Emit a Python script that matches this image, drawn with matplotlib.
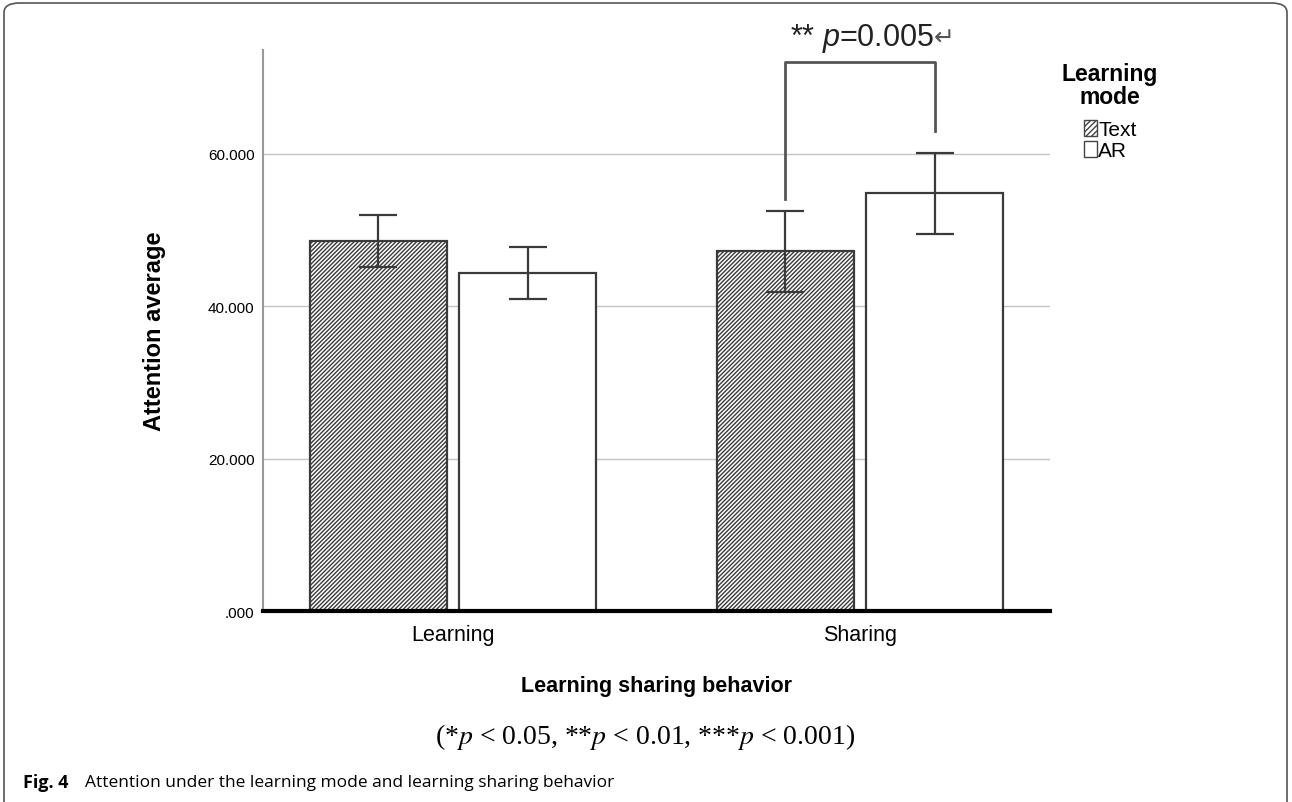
import matplotlib
matplotlib.use("Agg")
import matplotlib.pyplot as plt
from matplotlib.patches import FancyBboxPatch, Patch
import numpy as np

plt.rcParams['font.family'] = ['Liberation Sans', 'DejaVu Sans']
plt.rcParams['hatch.linewidth'] = 1.0
plt.rcParams['hatch.color'] = '#444444'
plt.rcParams['mathtext.fontset'] = 'custom'
plt.rcParams['mathtext.rm'] = 'Liberation Sans'
plt.rcParams['mathtext.it'] = 'Liberation Sans:italic'

groups = ["Learning", "Sharing"]
modes = ["Text", "AR"]
means = {"Text": [48.5, 47.2], "AR": [44.3, 54.8]}
err_lo = {"Text": [45.1, 41.8], "AR": [40.9, 49.4]}
err_hi = {"Text": [51.9, 52.5], "AR": [47.7, 60.1]}
yticks = [0, 20, 40, 60]
ytick_labels = [".000", "20.000", "40.000", "60.000"]

fig = plt.figure(figsize=(12.92, 8.03), dpi=100)
ax = fig.add_axes([263/1292, 1-612/803, (1050-263)/1292, (612-51)/803])

x = np.arange(len(groups))
w = 0.337
offs = {"Text": -0.184, "AR": 0.184}
for m in modes:
    xs = x + offs[m]
    hatch = "////////" if m == "Text" else None
    ax.bar(xs, means[m], w, color="white", edgecolor="#3a3a3a", hatch=hatch, lw=1.6, zorder=3)
    m_arr = np.array(means[m])
    yerr = [m_arr - np.array(err_lo[m]), np.array(err_hi[m]) - m_arr]
    ax.errorbar(xs, m_arr, yerr=yerr, fmt="none", ecolor="#3a3a3a", elinewidth=1.6,
                capsize=13.5, capthick=1.6, zorder=4)

ax.set_xlim(-0.467, 1.467)
ax.set_ylim(0, 73.6)
ax.set_yticks(yticks)
ax.set_yticklabels(ytick_labels, fontsize=11)
ax.set_xticks(x)
ax.set_xticklabels(groups, fontsize=15.5)
ax.tick_params(length=0)
ax.tick_params(axis='y', pad=6)
ax.tick_params(axis='x', pad=9)
ax.grid(axis='y', color="#c4c4c4", lw=1, zorder=0)
for s in ["top", "right"]:
    ax.spines[s].set_visible(False)
ax.spines["left"].set_color("#999999")
ax.spines["left"].set_linewidth(1.5)
ax.spines["bottom"].set_color("black")
ax.spines["bottom"].set_linewidth(3)
ax.spines["bottom"].set_zorder(5)

ax.set_ylabel("Attention average", fontsize=17, fontweight="bold", labelpad=30)
ax.set_xlabel("Learning sharing behavior", fontsize=15.5, fontweight="bold", labelpad=22)

# significance bracket
xl = x[1] + offs["Text"]
xr = x[1] + offs["AR"]
ax.plot([xl, xl, xr, xr], [54.0, 72.0, 72.0, 63.0], color="#555555", lw=2, clip_on=False, zorder=4)
sig = ax.text(x[1] + 0.005, 74.2, r"** $p$=0.005", ha="center", va="baseline", fontsize=22,
              color="#222222", clip_on=False, math_fontfamily="custom")
ax.annotate("↵", xy=(1, 0.15), xycoords=sig, ha="left", va="bottom", fontsize=18,
            color="#555555", family="DejaVu Sans", annotation_clip=False)

# legend
fig.text(1110/1292, 1-63/803, "Learning\nmode", ha="center", va="top", fontsize=16.5,
         fontweight="bold", multialignment="center", linespacing=1.0)
handles = [Patch(facecolor="white", edgecolor="#444444", hatch="//////", label="Text"),
           Patch(facecolor="white", edgecolor="#444444", label="AR")]
leg = fig.legend(handles=handles, loc="upper center",
                 bbox_to_anchor=(1110/1292, 1-121/803), frameon=False, fontsize=15,
                 borderaxespad=0, borderpad=0,
                 handlelength=0.65, handleheight=0.8, handletextpad=0.05, labelspacing=0.1)

fig.text(645/1292, 1-737/803, r"(*$p$ < 0.05, **$p$ < 0.01, ***$p$ < 0.001)", ha="center",
         va="center", fontsize=20, math_fontfamily="stix", family="Liberation Serif")
fig.text(23/1292, 1-783/803, "Fig. 4", ha="left", va="center", fontsize=13,
         fontweight="bold", family="Open Sans")
fig.text(85/1292, 1-783/803, "Attention under the learning mode and learning sharing behavior",
         ha="left", va="center", fontsize=12.5, family="Open Sans")

frame = FancyBboxPatch((4/1292, -0.02), 1-9/1292, 1.0 - 4/803 + 0.02,
                       boxstyle="round,pad=0,rounding_size=0.012", transform=fig.transFigure,
                       fill=False, edgecolor="#555555", lw=1.2)
fig.patches.append(frame)

fig.savefig("out.png", dpi=100)
